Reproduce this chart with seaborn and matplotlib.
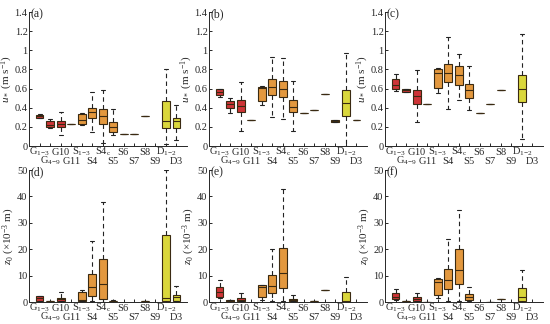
import numpy as np
import pandas as pd
import matplotlib
matplotlib.use("Agg")
import matplotlib.pyplot as plt
import seaborn as sns

# ================================
# DATA (min, q1, median, q3, max) per site, None = no data
# ================================
SITES = ["G1-3", "G4-9", "G10", "G11", "S1-3", "S4", "S4c", "S5",
         "S6", "S7", "S8", "S9", "D1-2", "D3"]
TICK_LABELS = [r"$\mathrm{G}_{1\mathrm{-}3}$", r"$\mathrm{G}_{4\mathrm{-}9}$",
               r"$\mathrm{G10}$", r"$\mathrm{G11}$",
               r"$\mathrm{S}_{1\mathrm{-}3}$", r"$\mathrm{S4}$",
               r"$\mathrm{S4}_{\mathrm{c}}$", r"$\mathrm{S5}$",
               r"$\mathrm{S6}$", r"$\mathrm{S7}$", r"$\mathrm{S8}$",
               r"$\mathrm{S9}$", r"$\mathrm{D}_{1\mathrm{-}2}$", r"$\mathrm{D3}$"]

ustar_a = [(0.29, 0.295, 0.31, 0.325, 0.33), (0.19, 0.195, 0.22, 0.26, 0.28),
           (0.11, 0.20, 0.235, 0.26, 0.36), (0.23,) * 5,
           (0.22, 0.23, 0.275, 0.33, 0.35), (0.15, 0.29, 0.36, 0.40, 0.56),
           (0.03, 0.23, 0.315, 0.385, 0.58), (0.11, 0.15, 0.20, 0.255, 0.39),
           (0.13,) * 5, (0.13,) * 5, (0.31,) * 5, None,
           (0.02, 0.185, 0.265, 0.475, 0.80), (0.06, 0.185, 0.26, 0.29, 0.43)]
ustar_b = [(0.51, 0.53, 0.565, 0.595, 0.60), (0.34, 0.40, 0.44, 0.47, 0.50),
           (0.16, 0.355, 0.42, 0.48, 0.67), (0.275,) * 5,
           (0.43, 0.47, 0.605, 0.62, 0.625), (0.305, 0.535, 0.62, 0.695, 0.93),
           (0.28, 0.51, 0.60, 0.68, 0.92), (0.16, 0.355, 0.41, 0.485, 0.68),
           (0.345,) * 5, (0.375,) * 5, (0.545,) * 5,
           (0.25, 0.252, 0.26, 0.27, 0.272),
           (0.0, 0.31, 0.445, 0.58, 0.97), (0.272,) * 5]
ustar_c = [(0.57, 0.595, 0.64, 0.70, 0.75), (0.56, 0.565, 0.58, 0.595, 0.60),
           (0.25, 0.44, 0.52, 0.58, 0.79), (0.435,) * 5,
           (0.55, 0.605, 0.765, 0.80, 0.81), (0.385, 0.665, 0.765, 0.86, 1.14),
           (0.48, 0.64, 0.74, 0.835, 0.96), (0.38, 0.50, 0.59, 0.65, 0.84),
           (0.347,) * 5, (0.435,) * 5, (0.59,) * 5, None,
           (0.07, 0.46, 0.595, 0.745, 1.165), None]

z0_d = [(0.4, 0.5, 1.5, 2.2, 2.2), (0.1, 0.2, 0.3, 0.4, 0.5),
        (0.2, 0.3, 1.0, 1.7, 3.7), None,
        (0.4, 0.5, 0.6, 3.8, 4.5), (0.2, 2.4, 5.8, 10.6, 23.0),
        (0.1, 1.2, 6.8, 16.1, 38.0), (0.1, 0.2, 0.3, 0.5, 0.6),
        None, None, (0.2,) * 5, None,
        (0.1, 0.2, 1.4, 25.4, 50.0), (0.3, 0.4, 2.0, 2.7, 6.0)]
z0_e = [(1.5, 1.8, 3.9, 5.8, 8.4), (0.3, 0.4, 0.5, 0.6, 0.7),
        (0.2, 0.3, 0.8, 1.6, 3.3), None,
        (0.8, 1.8, 5.7, 6.4, 6.5), (0.3, 3.4, 6.2, 10.1, 20.0),
        (0.5, 5.4, 11.1, 20.3, 42.9), (0.3, 0.5, 0.8, 1.2, 2.8),
        None, (0.2,) * 5, (4.6,) * 5, None,
        (0.0, 0.1, 0.3, 3.9, 9.4), None]
z0_f = [(0.8, 1.2, 2.0, 3.3, 4.8), (0.2, 0.25, 0.3, 0.35, 0.4),
        (0.3, 0.4, 1.0, 1.8, 3.5), (0.1,) * 5,
        (1.4, 2.6, 7.4, 8.8, 9.0), (0.5, 5.0, 8.4, 12.5, 23.8),
        (0.3, 6.9, 12.1, 20.0, 35.0), (0.5, 0.6, 1.8, 3.0, 5.7),
        None, (0.1,) * 5, (1.0,) * 5, None,
        (0.0, 0.5, 1.8, 5.2, 12.3), None]

PALETTE = {s: "#e81a1e" for s in SITES[:4]}
PALETTE.update({s: "#ff9a22" for s in SITES[4:12]})
PALETTE.update({s: "#f4f022" for s in SITES[12:]})
EDGE = "#3a2a12"

# ================================
# STYLE
# ================================
sns.set_theme(style="ticks")
plt.rcParams["font.family"] = ["Liberation Serif", "DejaVu Serif"]
plt.rcParams["mathtext.fontset"] = "custom"
plt.rcParams["mathtext.rm"] = "Liberation Serif"
plt.rcParams["mathtext.it"] = "Liberation Serif:italic"
plt.rcParams["font.size"] = 7


def to_long(stats):
    rows = []
    for site, s in zip(SITES, stats):
        if s is None:
            continue
        for v in s:
            rows.append({"site": site, "val": v})
    return pd.DataFrame(rows)


def draw(ax, stats, letter, top):
    df = to_long(stats)
    sns.boxplot(data=df, x="site", y="val", hue="site", order=SITES,
                hue_order=SITES, palette=PALETTE, legend=False, ax=ax,
                whis=(0, 100), width=0.75, showfliers=False,
                linecolor=EDGE, linewidth=0.8,
                whiskerprops={"linestyle": (0, (4, 3)), "color": "#222222"},
                capprops={"color": "#222222"},
                medianprops={"color": EDGE, "linewidth": 0.8})
    ax.set_xlim(-1, 14)
    ax.set_xticks(range(0, 14, 2))
    ax.set_xticklabels(TICK_LABELS[0::2], fontsize=7.5)
    ax.set_xticks(range(1, 14, 2), minor=True)
    ax.set_xticklabels(TICK_LABELS[1::2], minor=True, fontsize=7.5)
    # baseline alignment so subscripted labels sit on the same line
    ax.tick_params(axis="x", which="major", direction="in", length=2.5,
                   pad=6.2, width=0.7)
    ax.tick_params(axis="x", which="minor", direction="in", length=2.5,
                   pad=12.8, width=0.7)
    for lbl in ax.get_xticklabels() + ax.get_xticklabels(minor=True):
        lbl.set_verticalalignment("baseline")
    ax.tick_params(axis="y", direction="in", length=2.5, pad=1,
                   labelsize=7.5, width=0.7)
    if top:
        ax.set_ylim(0, 1.4)
        ax.set_yticks(np.arange(0, 1.41, 0.2))
        ax.set_yticklabels(["0", "0.2", "0.4", "0.6", "0.8", "1", "1.2", "1.4"])
        ax.set_ylabel(r"$u_*$ (m s$^{-1}$)", labelpad=0, fontsize=8)
    else:
        ax.set_ylim(0, 50)
        ax.set_yticks(range(0, 51, 10))
        ax.set_ylabel(r"$z_0$ ($\times$10$^{-3}$ m)", labelpad=0, fontsize=8)
    ax.set_xlabel("")
    sns.despine(ax=ax)
    for sp in ax.spines.values():
        sp.set_linewidth(0.7)
    ax.text(0.01, 0.985, f"({letter})", transform=ax.transAxes,
            va="center", ha="left", fontsize=8.5)


fig = plt.figure(figsize=(5.5, 3.24), dpi=100)
lefts = [29 / 550, 209 / 550, 385 / 550]
w = 158 / 550
panels = [(ustar_a, "a", True), (ustar_b, "b", True), (ustar_c, "c", True),
          (z0_d, "d", False), (z0_e, "e", False), (z0_f, "f", False)]
for i, (stats, letter, top) in enumerate(panels):
    if top:
        rect = [lefts[i % 3], 1 - 146 / 324, w, 134 / 324]
    else:
        rect = [lefts[i % 3], 1 - 302 / 324, w, 132 / 324]
    ax = fig.add_axes(rect)
    draw(ax, stats, letter, top)

fig.savefig("out.png", dpi=100)
